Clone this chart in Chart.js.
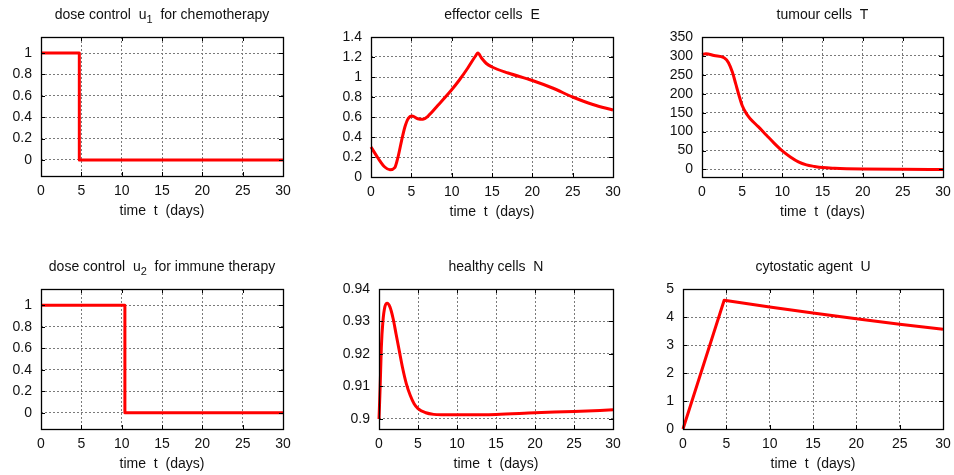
<!DOCTYPE html>
<html><head><meta charset="utf-8">
<script src="https://cdn.jsdelivr.net/npm/chart.js@4/dist/chart.umd.min.js"></script>
<style>
html,body{margin:0;padding:0;background:#fff;overflow:hidden;width:954px;height:475px;position:relative}
canvas{position:absolute}
</style></head><body>
<script>
// ---- data ----
const xTicks = [0, 5, 10, 15, 20, 25, 30];

const tU1 = [0, 4.75, 4.75, 30];
const u1  = [1, 1, 0, 0];

const tU2 = [0, 10.4, 10.4, 30];
const u2  = [1, 1, 0, 0];

const tE = [0, 0.9, 1.7, 2.35, 2.95, 3.35, 3.8, 4.2, 4.6, 5.1, 5.8, 6.45, 7.05, 8.3, 9.95, 11, 12, 13, 13.25, 13.7, 14.3, 15, 17, 20, 22.5, 25, 27.5, 30];
const E  = [0.30, 0.185, 0.10, 0.073, 0.094, 0.20, 0.367, 0.50, 0.583, 0.61, 0.583, 0.577, 0.607, 0.717, 0.867, 0.975, 1.09, 1.215, 1.24, 1.19, 1.135, 1.10, 1.04, 0.965, 0.89, 0.80, 0.725, 0.67];

const tT = [0, 0.5, 1.5, 2.75, 3.3, 3.8, 4.2, 4.6, 5, 5.6, 6, 7, 8, 9, 10, 11, 12, 13, 14, 15, 16.5, 18, 20, 25, 30];
const T  = [304, 306, 301, 295, 282, 256, 226, 196, 169, 145, 134, 113, 91, 69, 49, 33, 20, 12, 8, 5, 3, 1.8, 1, 0.3, 0.1];

const tN = [0, 0.15, 0.3, 0.5, 0.75, 1.05, 1.4, 1.8, 2.2, 2.6, 3, 3.5, 4, 4.5, 5, 6, 7, 8, 10, 15, 20, 25, 30];
const N  = [0.900, 0.910, 0.922, 0.930, 0.9345, 0.9356, 0.9345, 0.931, 0.926, 0.921, 0.916, 0.9109, 0.9073, 0.9047, 0.9032, 0.9019, 0.9014, 0.9013, 0.9013, 0.9014, 0.9019, 0.9023, 0.9028];

const tCU = [0, 4.75, 10, 15, 20, 25, 30];
const CU  = [0, 4.6, 4.36, 4.14, 3.94, 3.74, 3.56];

const yTicksU  = [0, 0.2, 0.4, 0.6, 0.8, 1];
const yTicksE  = [0, 0.2, 0.4, 0.6, 0.8, 1, 1.2, 1.4];
const yTicksT  = [0, 50, 100, 150, 200, 250, 300, 350];
const yTicksN  = [0.9, 0.91, 0.92, 0.93, 0.94];
const yTicksCU = [0, 1, 2, 3, 4, 5];

const xLabel = 'time  t  (days)';

// ---- layout ----
const FONT = "'Liberation Sans', Arial, Helvetica, sans-serif";
const M = 60, TOP = 40, XH = 50, PB = 5, PR = 15;

const frame = {
  id: 'frame',
  afterDraw(chart) {
    const {ctx, chartArea: a, scales: {x, y}} = chart;
    ctx.save();
    ctx.strokeStyle = '#000';
    ctx.lineWidth = 1;
    ctx.beginPath();
    x.ticks.forEach(t => {
      const px = Math.round(x.getPixelForValue(t.value)) + 0.5;
      ctx.moveTo(px, a.bottom); ctx.lineTo(px, a.bottom - 4);
      ctx.moveTo(px, a.top); ctx.lineTo(px, a.top + 4);
    });
    y.ticks.forEach(t => {
      const py = Math.round(y.getPixelForValue(t.value)) + 0.5;
      ctx.moveTo(a.left, py); ctx.lineTo(a.left + 4, py);
      ctx.moveTo(a.right, py); ctx.lineTo(a.right - 4, py);
    });
    ctx.stroke();
    ctx.lineWidth = 1.3;
    ctx.strokeRect(Math.round(a.left) + 0.5, Math.round(a.top) + 0.5,
                   Math.round(a.right - a.left), Math.round(a.bottom - a.top));
    ctx.restore();
  }
};

const panelTitle = {
  id: 'panelTitle',
  afterDraw(chart, args, opts) {
    const {ctx, chartArea: a} = chart;
    const parts = opts.parts || [];
    ctx.save();
    ctx.fillStyle = '#111';
    ctx.textBaseline = 'alphabetic';
    ctx.textAlign = 'left';
    let total = 0;
    const widths = parts.map(p => {
      ctx.font = (p[1] ? '11px ' : '14px ') + FONT;
      const w = ctx.measureText(p[0]).width;
      total += w;
      return w;
    });
    let xx = (a.left + a.right) / 2 - total / 2;
    const base = a.top - 18.4;
    parts.forEach((p, i) => {
      ctx.font = (p[1] ? '11px ' : '14px ') + FONT;
      ctx.fillText(p[0], xx, p[1] ? base + 4 : base);
      xx += widths[i];
    });
    ctx.restore();
  }
};

function make(p) {
  const [L, R, Tp, B] = p.rect;
  const w = R - L, h = B - Tp;
  const cw = M + w + PR, ch = TOP + h + XH + PB;
  const c = document.createElement('canvas');
  c.width = cw; c.height = ch;
  c.style.left = (L - M) + 'px'; c.style.top = (Tp - TOP) + 'px';
  c.style.width = cw + 'px'; c.style.height = ch + 'px';
  document.body.appendChild(c);
  const tickFont = {family: FONT, size: 14};
  new Chart(c, {
    type: 'line',
    data: {
      datasets: [{
        data: p.x.map((t, i) => ({x: t, y: p.y[i]})),
        borderColor: '#ff0000',
        borderWidth: 3,
        pointRadius: 0,
        fill: false,
        tension: p.smooth ? 0.4 : 0,
        cubicInterpolationMode: p.smooth ? 'monotone' : 'default',
        borderJoinStyle: 'round',
        clip: 3
      }]
    },
    options: {
      responsive: false,
      animation: false,
      devicePixelRatio: 1,
      events: [],
      layout: {padding: {left: 0, right: PR, top: TOP, bottom: PB}},
      plugins: {
        legend: {display: false},
        tooltip: {enabled: false},
        title: {display: false},
        panelTitle: {parts: p.title}
      },
      scales: {
        x: {
          type: 'linear', min: 0, max: 30,
          afterBuildTicks: s => { s.ticks = xTicks.map(v => ({value: v})); },
          afterFit: s => { s.height = XH; },
          grid: {color: '#7a7a7a', lineWidth: 1, drawTicks: false},
          border: {display: false, dash: [2, 2]},
          ticks: {padding: 7, color: '#111', font: tickFont, maxRotation: 0, autoSkip: false,
                  callback: v => String(v)},
          title: {display: true, text: xLabel, color: '#111', font: tickFont,
                  padding: {top: 0, bottom: 6.4}}
        },
        y: {
          type: 'linear', min: p.ymin, max: p.ymax,
          afterBuildTicks: s => { s.ticks = p.yt.map(v => ({value: v})); },
          afterFit: s => { s.width = M; },
          grid: {color: '#7a7a7a', lineWidth: 1, drawTicks: false},
          border: {display: false, dash: [2, 2]},
          ticks: {padding: 9, color: '#111', font: tickFont, autoSkip: false,
                  callback: v => String(v)}
        }
      }
    },
    plugins: [frame, panelTitle]
  });
}

const panels = [
  {title: [['dose control  u', false], ['1', true], ['  for chemotherapy', false]],
   rect: [41, 283, 37, 176], x: tU1, y: u1, ymin: -0.15, ymax: 1.15, yt: yTicksU, smooth: false},
  {title: [['effector cells  E', false]],
   rect: [371, 613, 37, 177], x: tE, y: E, ymin: 0, ymax: 1.4, yt: yTicksE, smooth: true},
  {title: [['tumour cells  T', false]],
   rect: [702, 943, 37, 177], x: tT, y: T, ymin: -20, ymax: 350, yt: yTicksT, smooth: true},
  {title: [['dose control  u', false], ['2', true], ['  for immune therapy', false]],
   rect: [41, 283, 289, 429], x: tU2, y: u2, ymin: -0.15, ymax: 1.15, yt: yTicksU, smooth: false},
  {title: [['healthy cells  N', false]],
   rect: [379, 613, 289, 429], x: tN, y: N, ymin: 0.8969, ymax: 0.94, yt: yTicksN, smooth: true},
  {title: [['cytostatic agent  U', false]],
   rect: [683, 943, 289, 429], x: tCU, y: CU, ymin: 0, ymax: 5, yt: yTicksCU, smooth: false}
];
panels.forEach(make);
</script>
</body></html>
